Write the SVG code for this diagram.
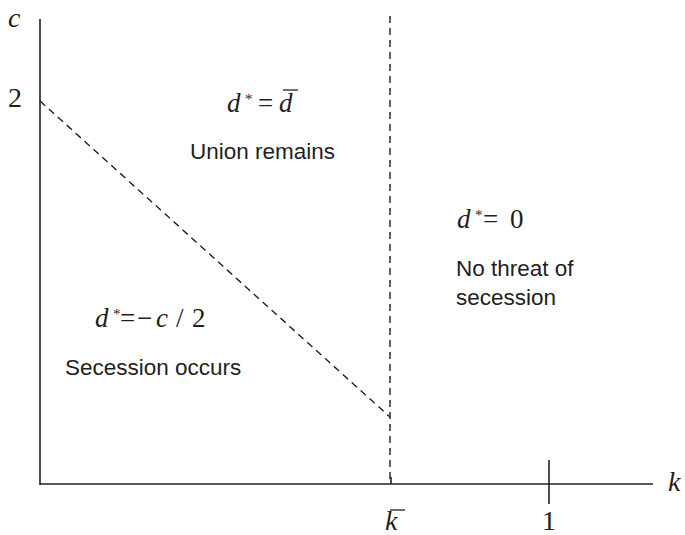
<svg xmlns="http://www.w3.org/2000/svg" width="685" height="535" viewBox="0 0 685 535">
<style>
.ax{stroke:#231f20;stroke-width:1.6;fill:none}
.dash{stroke:#231f20;stroke-width:1.4;fill:none;stroke-dasharray:7,5}
.m{font-family:"Liberation Serif",serif;font-size:27px;fill:#231f20}
.mi{font-family:"Liberation Serif",serif;font-size:27px;font-style:italic;fill:#231f20}
.big{font-size:28px}
.sup{font-family:"Liberation Serif",serif;font-size:15px;fill:#231f20}
.t{font-family:"Liberation Sans",Arial,sans-serif;font-size:22.5px;fill:#231f20}
.bar{stroke:#231f20;stroke-width:1.3}
</style>
<rect width="685" height="535" fill="#fff"/>
<g id="axes">
<line class="ax" x1="40" y1="19" x2="40" y2="485"/>
<line class="ax" x1="40" y1="484" x2="653" y2="484"/>
<line class="ax" x1="549" y1="460" x2="549" y2="504"/>
<line class="ax" x1="391" y1="477" x2="391" y2="484"/>
</g>
<g id="connectors">
<line class="dash" x1="390" y1="16" x2="390" y2="484"/>
<line class="dash" x1="40" y1="101" x2="390" y2="417"/>
</g>
<g id="labels">
<text class="mi big" x="8" y="27">c</text>
<text class="m big" x="8" y="107">2</text>
<text class="mi big" x="668" y="491">k</text>
<text class="m big" x="542" y="530">1</text>
<text class="mi big" x="385" y="530">k</text>
<line class="bar" x1="390" y1="510" x2="405" y2="510"/>
</g>
<g id="union">
<text class="mi" x="227" y="112">d</text>
<text class="sup" x="245" y="104">*</text>
<text class="m" x="258" y="112">=</text>
<text class="mi" x="279" y="112">d</text>
<line class="bar" x1="283" y1="90" x2="298" y2="90"/>
<text class="t" x="190" y="159">Union remains</text>
</g>
<g id="nothreat">
<text class="mi" x="457" y="228">d</text>
<text class="sup" x="475" y="220">*</text>
<text class="m" x="483" y="228">=</text>
<text class="m" x="510" y="228">0</text>
<text class="t" x="456" y="276">No threat of</text>
<text class="t" x="456" y="305">secession</text>
</g>
<g id="secession">
<text class="mi" x="95" y="327">d</text>
<text class="sup" x="113" y="319">*</text>
<text class="m" x="120" y="327">=</text>
<text class="m" x="137" y="327">−</text>
<text class="mi" x="156" y="327">c</text>
<text class="m" x="176" y="327">/</text>
<text class="m" x="192" y="327">2</text>
<text class="t" x="65" y="375">Secession occurs</text>
</g>
</svg>
